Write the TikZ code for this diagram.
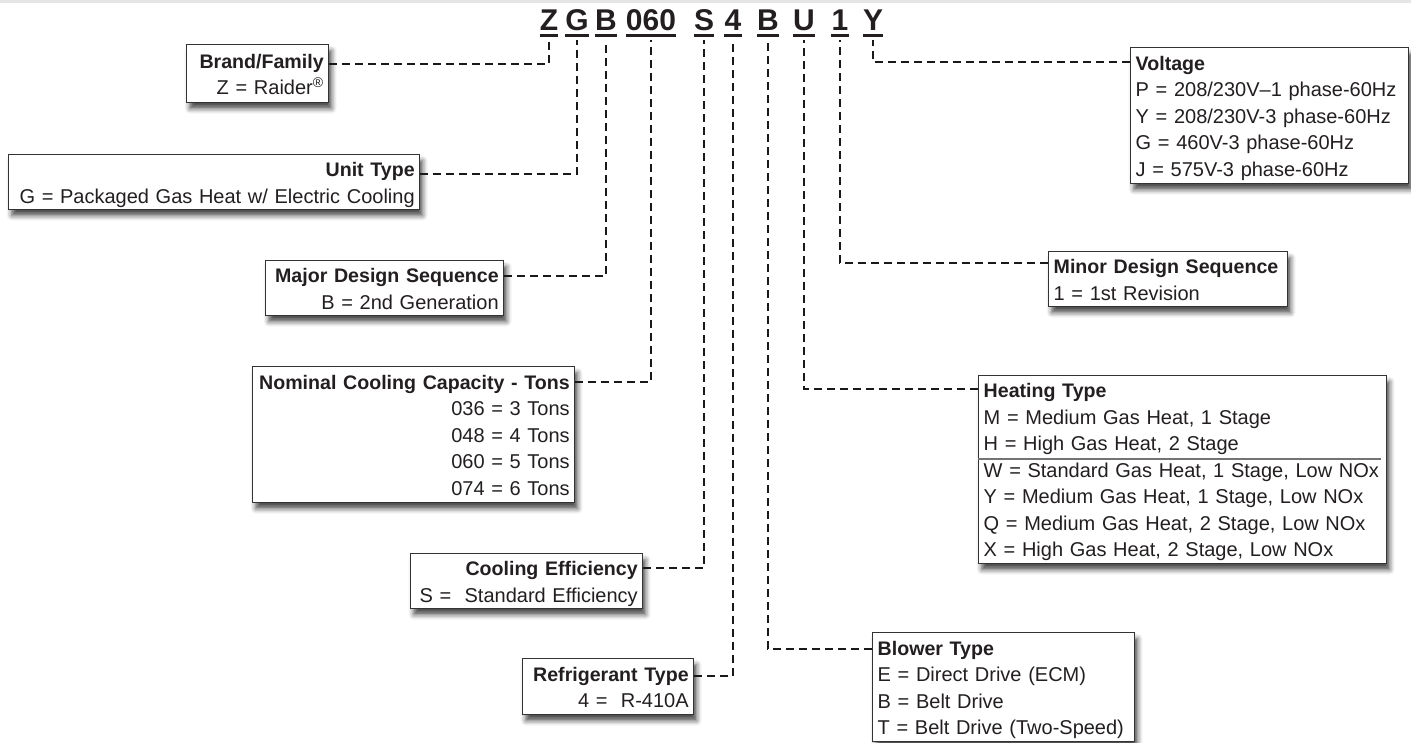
\documentclass[tikz,border=0pt]{standalone}
\usepackage{fontspec}
\setmainfont{Liberation Sans}
\usetikzlibrary{shadows.blur}
\definecolor{txt}{HTML}{231F20}
\definecolor{bord}{HTML}{333333}
\newcommand\ls{\rule[-5.5pt]{0pt}{26.5pt}}
\newcommand\boxline[1]{\ls\mbox{#1}}
\newcommand\boxhead[1]{\ls\mbox{\fontsize{19.6}{26.5}\selectfont\bfseries #1}}
\begin{document}
\begin{tikzpicture}[x=1pt,y=-1pt,
  box/.style={draw=bord, line width=1.4pt, fill=white, text=txt, inner xsep=5pt, inner ysep=0pt,
    anchor=north west, font=\fontsize{20}{26.5}\selectfont,
    blur shadow={shadow xshift=3pt, shadow yshift=-6pt, shadow blur radius=5pt, shadow opacity=70}},
  conn/.style={draw=black!90, line width=2.4pt, dash pattern=on 8pt off 5pt},
  code/.style={font=\fontsize{30}{32}\bfseries\selectfont, text=txt, inner sep=0pt, anchor=base},
  uline/.style={draw=txt, line width=3pt}]
\useasboundingbox (0,0) rectangle (1411,742);
\fill[black!10] (0,0) rectangle (1411,2.5);

% code characters
\node[code] (cZ) at (549,30) {Z};
\node[code] (cG) at (577,30) {G};
\node[code] (cB) at (606,30) {B};
\node[code] (c060) at (651,30) {060};
\node[code] (cS) at (704,30) {S};
\node[code] (c4) at (733,30) {4};
\node[code] (cB2) at (768,30) {B};
\node[code] (cU) at (804,30) {U};
\node[code] (c1) at (840,30) {1};
\node[code] (cY) at (873,30) {Y};
\foreach \n in {cZ,cG,cB,c060,cS,c4,cB2,cU,c1,cY}
  \draw[uline] ([yshift=-5.5pt]\n.base west) -- ([yshift=-5.5pt]\n.base east);

% boxes
\node[box, minimum width=142pt, minimum height=58pt, text width=132pt, align=right] (brand) at (186,44)
  {\boxhead{Brand/Family}\\\boxline{Z = Raider\textsuperscript{®}}};
\node[box, minimum width=411pt, minimum height=55pt, text width=401pt, align=right] (unit) at (8,154)
  {\boxhead{Unit Type}\\\boxline{G = Packaged Gas Heat w/ Electric Cooling}};
\node[box, minimum width=238pt, minimum height=55pt, text width=228pt, align=right] (major) at (265,260)
  {\boxhead{Major Design Sequence}\\\boxline{B = 2nd Generation}};
\node[box, minimum width=322pt, minimum height=136pt, text width=312pt, align=right] (nom) at (252,366)
  {\boxhead{Nominal Cooling Capacity - Tons}\\\boxline{036 = 3 Tons}\\\boxline{048 = 4 Tons}\\\boxline{060 = 5 Tons}\\\boxline{074 = 6 Tons}};
\node[box, minimum width=232pt, minimum height=55pt, text width=222pt, align=right] (eff) at (410,553)
  {\boxhead{Cooling Efficiency}\\\boxline{S = ~Standard Efficiency}};
\node[box, minimum width=171pt, minimum height=56pt, text width=161pt, align=right] (ref) at (522,658)
  {\boxhead{Refrigerant Type}\\\boxline{4 = ~R-410A}};
\node[box, minimum width=278pt, minimum height=136pt, text width=268pt, align=left] (volt) at (1130,47)
  {\boxhead{Voltage}\\\boxline{P = 208/230V–1 phase-60Hz}\\\boxline{Y = 208/230V-3 phase-60Hz}\\\boxline{G = 460V-3 phase-60Hz}\\\boxline{J = 575V-3 phase-60Hz}};
\node[box, minimum width=239pt, minimum height=55pt, text width=229pt, align=left] (minor) at (1048,251)
  {\boxhead{Minor Design Sequence}\\\boxline{1 = 1st Revision}};
\node[box, minimum width=408pt, minimum height=188pt, text width=398pt, align=left] (heat) at (978,375)
  {\boxhead{Heating Type}\\\boxline{M = Medium Gas Heat, 1 Stage}\\\boxline{H = High Gas Heat, 2 Stage}\\\boxline{W = Standard Gas Heat, 1 Stage, Low NOx}\\\boxline{Y = Medium Gas Heat, 1 Stage, Low NOx}\\\boxline{Q = Medium Gas Heat, 2 Stage, Low NOx}\\\boxline{X = High Gas Heat, 2 Stage, Low NOx}};
\draw[black!55, line width=1.3pt] ([yshift=-84pt]heat.north west) -- ([xshift=-6pt,yshift=-84pt]heat.north east);
\node[box, minimum width=262pt, minimum height=109pt, text width=252pt, align=left] (blow) at (872,632)
  {\boxhead{Blower Type}\\\boxline{E = Direct Drive (ECM)}\\\boxline{B = Belt Drive}\\\boxline{T = Belt Drive (Two-Speed)}};

% connectors
\draw[conn] ([yshift=-20pt]brand.north east) -| ([yshift=-10pt]cZ.south);
\draw[conn] ([yshift=-20pt]unit.north east) -| ([yshift=-10pt]cG.south);
\draw[conn] ([yshift=-16pt]major.north east) -| ([yshift=-10pt]cB.south);
\draw[conn] ([yshift=-16pt]nom.north east) -| ([yshift=-10pt]c060.south);
\draw[conn] ([yshift=-15pt]eff.north east) -| ([yshift=-10pt]cS.south);
\draw[conn] ([yshift=-18pt]ref.north east) -| ([yshift=-10pt]c4.south);
\draw[conn] ([yshift=-17pt]blow.north west) -| ([yshift=-10pt]cB2.south);
\draw[conn] ([yshift=-14pt]heat.north west) -| ([yshift=-10pt]cU.south);
\draw[conn] ([yshift=-12pt]minor.north west) -| ([yshift=-10pt]c1.south);
\draw[conn] ([yshift=-15pt]volt.north west) -| ([yshift=-10pt]cY.south);
\end{tikzpicture}
\end{document}
